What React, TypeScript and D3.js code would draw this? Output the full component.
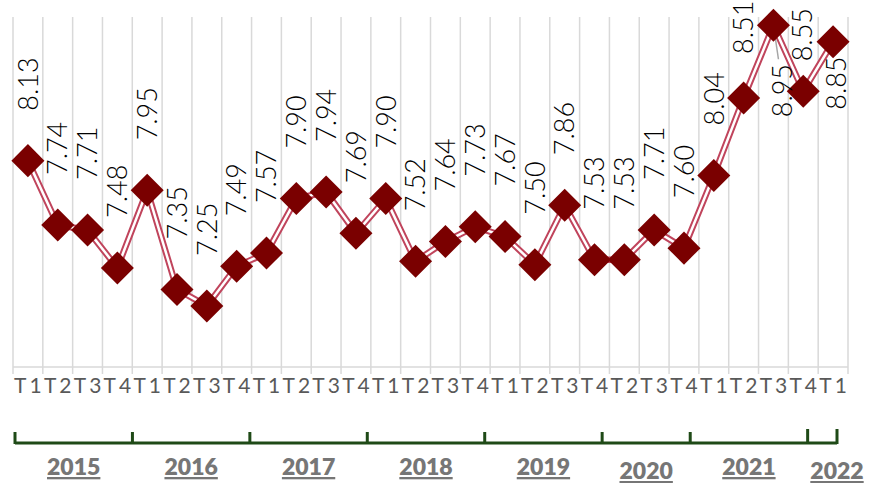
import React from 'react'
import * as d3 from 'd3'

// quarterly values, 2015 T1 .. 2022 T1 (2020 T1 missing in source)
const quarters = [
  'T1', 'T2', 'T3', 'T4',
  'T1', 'T2', 'T3', 'T4',
  'T1', 'T2', 'T3', 'T4',
  'T1', 'T2', 'T3', 'T4',
  'T1', 'T2', 'T3', 'T4',
  'T2', 'T3', 'T4',
  'T1', 'T2', 'T3', 'T4',
  'T1',
]
const values = [
  8.13, 7.74, 7.71, 7.48,
  7.95, 7.35, 7.25, 7.49,
  7.57, 7.90, 7.94, 7.69,
  7.90, 7.52, 7.64, 7.73,
  7.67, 7.50, 7.86, 7.53,
  7.53, 7.71, 7.60,
  8.04, 8.51, 8.95, 8.55,
  8.85,
]
const years = ['2015', '2016', '2017', '2018', '2019', '2020', '2021', '2022']
const quartersPerYear = [4, 4, 4, 4, 4, 3, 4, 1]

// hand placed labels at the crowded right end (dx, dy from point)
const labelNudge: Record<number, {dx: number, dy: number, leader?: boolean}> = {
  24: {dx: 0, dy: -44},
  25: {dx: 9, dy: 92, leader: true},
  26: {dx: -1, dy: -30},
  27: {dx: 3, dy: 68},
}

const W = 870, H = 483

const App = () => {
  const x = d3.scaleBand<number>()
    .domain(d3.range(values.length))
    .range([13, 848])
  const y = d3.scaleLinear()
    .domain([6.88, 9.0])
    .range([367, 17])
  const yearX = d3.scaleLinear()
    .domain([0, values.length])
    .range([15, 837])

  const cx = (i: number) => x(i)! + x.bandwidth() / 2
  const lineGen = d3.line<number>()
    .x((d, i) => cx(i))
    .y(d => y(d))
  const diamond = d3.symbol(d3.symbolSquare, 545)()

  // year boundaries
  const bounds = [0, ...d3.cumsum(quartersPerYear)]
  const gridXs = d3.range(values.length + 1).map(i => i === values.length ? x.range()[1] : x(i)!)

  const fmt = d3.format('.2f')

  return (
    <svg width={W} height={H} style={{position: 'absolute', left: 0, top: 0, background: '#fff'}}>
      {/* vertical gridlines */}
      <g stroke="#d9d9d9" strokeWidth={1.5}>
        {gridXs.map((gx, i) => (
          <line key={i} x1={gx} x2={gx} y1={17} y2={374} />
        ))}
        <line x1={gridXs[0]} x2={gridXs[gridXs.length - 1]} y1={367} y2={367} />
      </g>

      {/* quarter labels */}
      <g fontFamily="Lato, sans-serif" fontSize={21} fill="#595959" textAnchor="middle" letterSpacing={3}>
        {quarters.map((q, i) => (
          <text key={i} x={cx(i) + 1.5} y={393}>{q}</text>
        ))}
      </g>

      {/* line, drawn as a double stroke */}
      <path d={lineGen(values)!} fill="none" stroke="#c0445c" strokeWidth={6.5} />
      <path d={lineGen(values)!} fill="none" stroke="#fff" strokeWidth={2.5} />

      {/* leader line */}
      {values.map((v, i) => labelNudge[i] && labelNudge[i].leader ? (
        <line key={'l' + i} x1={cx(i)} y1={y(v)} x2={cx(i) + labelNudge[i].dx - 4} y2={y(v) + 34}
          stroke="#a6a6a6" strokeWidth={1.5} />
      ) : null)}

      {/* markers */}
      {values.map((v, i) => (
        <path key={i} d={diamond!} fill="#7a0000"
          transform={`translate(${cx(i)},${y(v)}) rotate(45)`} />
      ))}

      {/* value labels */}
      <g fontFamily="Lato, sans-serif" fontSize={27} fontWeight={300} fill="#000">
        {values.map((v, i) => {
          const n = labelNudge[i]
          const dx = n ? n.dx : 0
          const dy = n ? n.dy : -50
          return (
            <text key={i} transform={`translate(${cx(i) + dx},${y(v) + dy}) rotate(-90)`} dy="0.36em">
              {fmt(v)}
            </text>
          )
        })}
      </g>

      {/* year axis */}
      <g stroke="#1f4a17" strokeWidth={3} fill="none">
        <line x1={yearX(0)} x2={yearX(values.length)} y1={443} y2={443} />
        {bounds.map((b, i) => (
          <line key={i} x1={yearX(b)} x2={yearX(b)} y1={i >= bounds.length - 2 ? 429 : 432} y2={444} />
        ))}
      </g>
      <g fontFamily="Lato, sans-serif" fontSize={23} fontWeight={800} fill="#767676" textAnchor="middle"
        style={{textDecoration: 'underline'}}>
        {years.map((yr, i) => {
          const mid = (yearX(bounds[i]) + yearX(bounds[i + 1])) / 2
          const low = yr === '2020' || yr === '2022'
          return (
            <text key={yr} x={yr === '2022' ? yearX(bounds[i + 1]) : mid} y={low ? 479 : 475}>{yr}</text>
          )
        })}
      </g>
    </svg>
  )
}

export default App
